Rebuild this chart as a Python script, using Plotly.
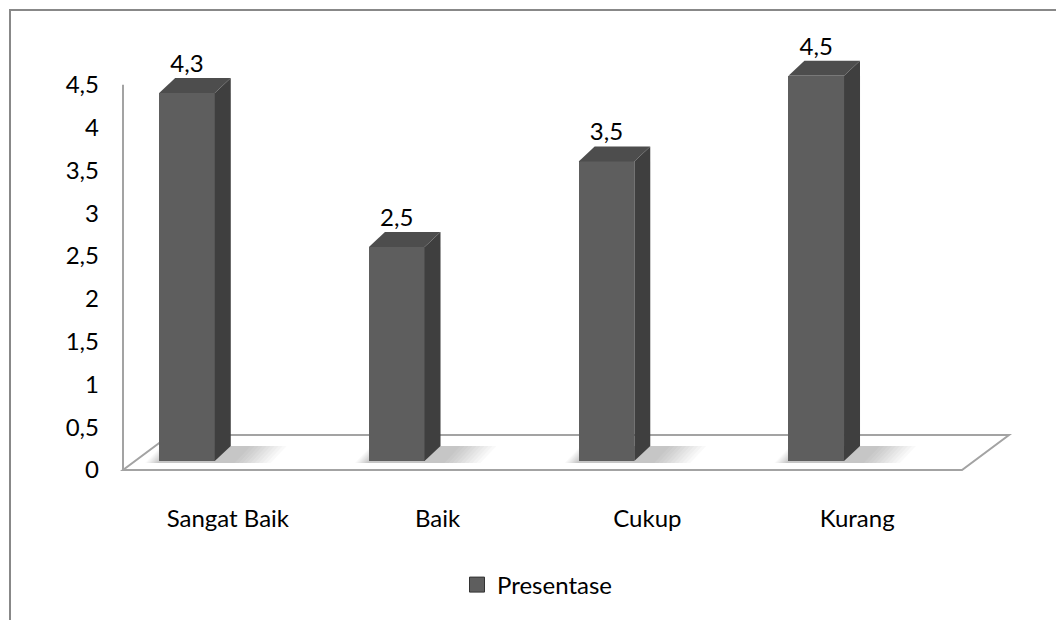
import plotly.graph_objects as go

# --- data -------------------------------------------------------------
categories = ["Sangat Baik", "Baik", "Cukup", "Kurang"]
presentase = [4.3, 2.5, 3.5, 4.5]
y_tick_vals = [0, 0.5, 1, 1.5, 2, 2.5, 3, 3.5, 4, 4.5]
y_tick_text = ["0", "0,5", "1", "1,5", "2", "2,5", "3", "3,5", "4", "4,5"]
series_name = "Presentase"

# --- geometry of the pseudo-3D frame (pixels) -------------------------
W, H = 1056, 620
L, R, T, B = 110, 1030, 30, 492      # plot area edges
SLOT = 209.75                        # width of one category on the front plane
FLOOR_X0 = 123                       # left edge of the floor, front plane
UNIT_Y = 85.6                        # pixels per value unit
FRONT_Y0 = 470                       # value 0 on the front plane
BAR_Y0 = 461                         # value 0 where the bars stand


def xval(px):
    return (px - FLOOR_X0) / SLOT - 0.5


x_range = [xval(L), xval(R)]
y1_range = [-(B - BAR_Y0) / UNIT_Y, (BAR_Y0 - T) / UNIT_Y]
y2_range = [-(B - FRONT_Y0) / UNIT_Y, (FRONT_Y0 - T) / UNIT_Y]

BAR_SHIFT = -0.195                   # bars sit left of the slot centre
BAR_W = 0.265
SIDE_DX = 16 / SLOT                  # depth of each column
SIDE_DY = 15 / UNIT_Y
FLOOR_DX = 47 / SLOT                 # depth of the floor
FLOOR_DY = 35 / UNIT_Y
FRONT_OFF = (FRONT_Y0 - BAR_Y0) / UNIT_Y

FRONT = "#5e5e5e"
SIDE = "#3f3f3f"
TOP = "#4d4d4d"
EDGE = "#a3a3a3"
FONT = "Lato"

fig = go.Figure()

# front faces of the columns
xs = [i + BAR_SHIFT for i in range(len(categories))]
fig.add_trace(go.Bar(
    x=xs, y=presentase, width=BAR_W, name=series_name,
    marker=dict(color=FRONT, line=dict(width=0)),
    hoverinfo="skip", showlegend=False,
))

# side and top faces
for x, v in zip(xs, presentase):
    xl, xr = x - BAR_W / 2, x + BAR_W / 2
    fig.add_trace(go.Scatter(
        x=[xr, xr + SIDE_DX, xr + SIDE_DX, xr, xr],
        y=[0, SIDE_DY, v + SIDE_DY, v, 0],
        fill="toself", fillcolor=SIDE, mode="lines", line=dict(width=0),
        showlegend=False, hoverinfo="skip",
    ))
    fig.add_trace(go.Scatter(
        x=[xl, xl + SIDE_DX, xr + SIDE_DX, xr, xl],
        y=[v, v + SIDE_DY, v + SIDE_DY, v, v],
        fill="toself", fillcolor=TOP, mode="lines", line=dict(width=0),
        showlegend=False, hoverinfo="skip",
    ))

# value labels
fig.add_trace(go.Scatter(
    x=xs, y=[v + SIDE_DY for v in presentase],
    text=[f"{v:g}".replace(".", ",") for v in presentase],
    mode="text", textposition="top center",
    textfont=dict(family=FONT, size=24, color="#000000"),
    showlegend=False, hoverinfo="skip", cliponaxis=False,
))

# vertical value axis on the front plane
fig.add_trace(go.Scatter(
    x=[-0.5, -0.5], y=[0, y_tick_vals[-1]], yaxis="y2",
    mode="lines", line=dict(color=EDGE, width=2),
    showlegend=False, hoverinfo="skip",
))

# legend entry for the series
fig.add_trace(go.Scatter(
    x=[None], y=[None], mode="markers", name=series_name,
    marker=dict(symbol="square", size=15, color=FRONT,
                line=dict(color="#333333", width=1)),
    showlegend=True, hoverinfo="skip",
))

# floor outline and soft shadows under the columns
n = len(categories)
fx0, fx1 = -0.5, n - 0.5
fy = -FRONT_OFF
shapes = []
for x in xs:
    steps = 10
    for k in range(steps):
        grow = (steps - k) / steps
        x0 = x - BAR_W / 2 - grow * 14 / SLOT
        x1 = x + BAR_W / 2 + SIDE_DX + grow * 40 / SLOT
        shapes.append(dict(
            type="path", xref="x", yref="y", layer="below",
            path=(f"M{x0},{-2 / UNIT_Y} L{x1},{-2 / UNIT_Y} "
                  f"L{x1 + SIDE_DX},{SIDE_DY} L{x0 + SIDE_DX},{SIDE_DY} Z"),
            line=dict(width=0), fillcolor="rgba(0,0,0,0.022)",
        ))
shapes.append(dict(
    type="path", xref="x", yref="y", layer="below",
    path=(f"M{fx0},{fy} L{fx1},{fy} L{fx1 + FLOOR_DX},{fy + FLOOR_DY} "
          f"L{fx0 + FLOOR_DX},{fy + FLOOR_DY} Z"),
    line=dict(color=EDGE, width=2), fillcolor="rgba(0,0,0,0)",
))

# outer chart frame
def px_to_paper_x(px):
    return (px - L) / (R - L)


def px_to_paper_y(py):
    return (B - py) / (B - T)


shapes.append(dict(
    type="rect", xref="paper", yref="paper", layer="above",
    x0=px_to_paper_x(10), x1=px_to_paper_x(W + 20),
    y0=px_to_paper_y(H + 20), y1=px_to_paper_y(10),
    line=dict(color="#888888", width=2), fillcolor="rgba(0,0,0,0)",
))

fig.update_layout(
    width=W, height=H,
    margin=dict(l=L, r=W - R, t=T, b=H - B, pad=0),
    paper_bgcolor="white", plot_bgcolor="white",
    font=dict(family=FONT, size=24, color="#000000"),
    shapes=shapes,
    bargap=0,
    xaxis=dict(
        range=x_range, tickmode="array",
        tickvals=list(range(n)), ticktext=categories,
        showgrid=False, zeroline=False, showline=False, ticks="",
        ticklabelstandoff=10, tickfont=dict(family=FONT, size=24),
    ),
    yaxis=dict(range=y1_range, visible=False, showgrid=False, zeroline=False),
    yaxis2=dict(
        range=y2_range, overlaying="y", side="left",
        tickmode="array", tickvals=y_tick_vals, ticktext=y_tick_text,
        showgrid=False, zeroline=False, showline=False, ticks="",
        ticklabelstandoff=10, tickfont=dict(family=FONT, size=24),
    ),
    legend=dict(
        orientation="h", xref="container", yref="container",
        x=457 / W, y=1 - 585 / H, xanchor="left", yanchor="middle",
        font=dict(family=FONT, size=24),
    ),
    showlegend=True,
)

fig.write_html("out.html")
